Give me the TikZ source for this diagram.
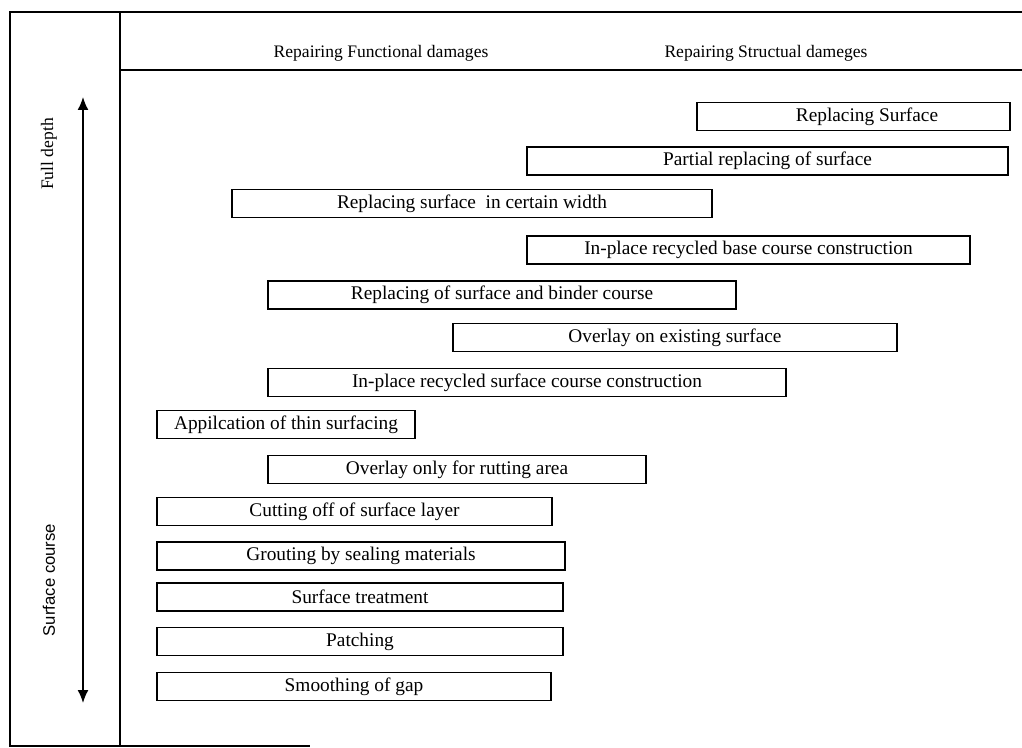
\documentclass[tikz,border=0pt]{standalone}
\usepackage{fontspec}
\setmainfont{Liberation Serif}
\setsansfont{Liberation Sans}
\usetikzlibrary{arrows.meta}
\tikzset{
    frameline/.style={line width=1pt},
    repairbox/.style={draw, line width=0.8pt, minimum height=0.56cm, inner sep=0pt, font=\fontsize{11}{13}\selectfont},
    headtext/.style={font=\fontsize{10}{12}\selectfont},
}

\begin{document}
\begin{tikzpicture}
        \useasboundingbox (0, 0) rectangle (20.44, -14.96);
        %draw outer frame and header line
        \draw[frameline] (20.44, -0.24) -- (0.2, -0.24) -- (0.2, -14.92) -- (6.2, -14.92);
        \draw[frameline] (2.4, -0.24) -- (2.4, -14.92);
        \draw[frameline] (2.4, -1.4) -- (20.44, -1.4);
        %label the two kinds of repair
        \node[headtext] (functional) at (7.62, -1.06) {Repairing Functional damages};
        \node[headtext] (structural) at (15.32, -1.06) {Repairing Structual dameges};
        %draw depth arrow
        \coordinate (deeptop) at (1.66, -1.94);
        \coordinate (deepbot) at (1.66, -14.06);
        \draw[{Latex[length=2.6mm, width=2.2mm]}-{Latex[length=2.6mm, width=2.2mm]}, line width=0.9pt] (deeptop) -- (deepbot);
        %label depth arrow
        \node[headtext, rotate=90] (fulldepth) at (0.98, -3.08) {Full depth};
        \node[headtext, rotate=90, font=\sffamily\fontsize{9.5}{11}\selectfont] (surfcourse) at (0.98, -11.6) {Surface course};
        %draw repair methods
        \node[repairbox, minimum width=6.26cm] (replsurf) at (17.07, -2.33) {\hspace{0.54cm}Replacing Surface};
        \node[repairbox, minimum width=9.62cm] (partrepl) at (15.35, -3.22) {Partial replacing of surface};
        \node[repairbox, minimum width=9.6cm] (certwidth) at (9.44, -4.07) {Replacing surface\ \ in certain width};
        \node[repairbox, minimum width=8.86cm] (recbase) at (14.97, -5.0) {In-place recycled base course construction};
        \node[repairbox, minimum width=9.36cm] (binder) at (10.04, -5.9) {Replacing of surface and binder course};
        \node[repairbox, minimum width=8.88cm] (overlay) at (13.5, -6.75) {Overlay on existing surface};
        \node[repairbox, minimum width=10.36cm] (recsurf) at (10.54, -7.65) {In-place recycled surface course construction};
        \node[repairbox, minimum width=5.16cm] (thinsurf) at (5.72, -8.49) {Appilcation of thin surfacing};
        \node[repairbox, minimum width=7.56cm] (rutting) at (9.14, -9.39) {Overlay only for rutting area};
        \node[repairbox, minimum width=7.9cm] (cutting) at (7.09, -10.23) {Cutting off of surface layer};
        \node[repairbox, minimum width=8.16cm] (grouting) at (7.22, -11.12) {Grouting by sealing materials};
        \node[repairbox, minimum width=8.12cm] (treatment) at (7.2, -11.94) {Surface treatment};
        \node[repairbox, minimum width=8.12cm] (patching) at (7.2, -12.83) {Patching};
        \node[repairbox, minimum width=7.88cm] (smoothing) at (7.08, -13.73) {Smoothing of gap};
    \end{tikzpicture}
\end{document}
